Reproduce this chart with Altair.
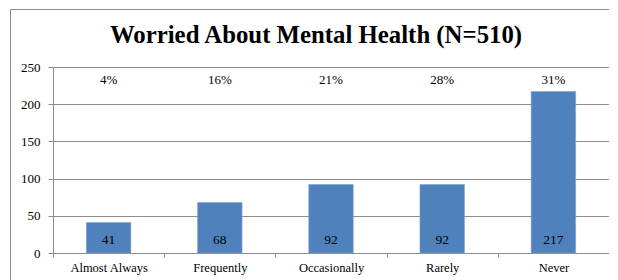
import altair as alt
import pandas as pd

title_text = ["Worried About Mental Health (N=510)"]
categories = ["Almost Always", "Frequently", "Occasionally", "Rarely", "Never"]
counts = [41, 68, 92, 92, 217]
percents = ["4%", "16%", "21%", "28%", "31%"]
y_ticks = [0, 50, 100, 150, 200, 250]

df = pd.DataFrame({"cat": categories, "count": counts, "pct": percents})
tdf = pd.DataFrame({"t": title_text})

W, H = 556, 186
FONT = "'Liberation Serif', 'Times New Roman', Tinos, Times, serif"
GRAY = "#8C8C8C"

x_enc = alt.X(
    "cat:N",
    sort=categories,
    title=None,
    scale=alt.Scale(paddingInner=0, paddingOuter=0),
    axis=alt.Axis(
        labelAngle=0,
        tickBand="extent",
        tickSize=4,
        labelPadding=4,
        labelFont=FONT,
        labelFontSize=12.5,
        labelColor="#000000",
        domainColor=GRAY,
        tickColor=GRAY,
        grid=False,
    ),
)
y_enc = alt.Y(
    "count:Q",
    title=None,
    scale=alt.Scale(domain=[0, 250], nice=False),
    axis=alt.Axis(
        values=y_ticks,
        tickSize=5,
        labelPadding=8,
        labelFont=FONT,
        labelFontSize=13,
        labelColor="#000000",
        domainColor=GRAY,
        tickColor=GRAY,
        gridColor=GRAY,
        grid=True,
    ),
)

bars = alt.Chart(df).mark_bar(
    color="#4F81BD", width=alt.RelativeBandSize(0.4), stroke="#7FA3D3", strokeWidth=0.6
).encode(x=x_enc, y=y_enc)

values = alt.Chart(df).mark_text(
    font=FONT, fontSize=13.5, color="#000000", baseline="middle"
).encode(x=alt.X("cat:N", sort=categories), y=alt.value(H - 13), text="count:Q")

pcts = alt.Chart(df).mark_text(
    font=FONT, fontSize=13, color="#000000", baseline="middle"
).encode(x=alt.X("cat:N", sort=categories), y=alt.value(13), text="pct:N")

title = alt.Chart(tdf).mark_text(
    font=FONT, fontSize=24.8, fontWeight="bold", color="#000000",
    baseline="alphabetic", align="center"
).encode(x=alt.value(263), y=alt.value(-24), text="t:N")

frame_left = alt.Chart(tdf).mark_rule(color=GRAY, strokeWidth=1).encode(
    x=alt.value(-42.5), y=alt.value(-57.5), y2=alt.value(H + 40)
)
frame_top = alt.Chart(tdf).mark_rule(color=GRAY, strokeWidth=1).encode(
    x=alt.value(-42.5), x2=alt.value(W + 2), y=alt.value(-57.5)
)

chart = alt.layer(frame_left, frame_top, bars, values, pcts, title).properties(
    width=W,
    height=H,
    autosize=alt.AutoSizeParams(type="none"),
    padding={"left": 45, "top": 59, "right": 0, "bottom": 27},
    background="#ffffff",
).configure_view(stroke=None)

chart.save("out.html", embed_options={"renderer": "svg", "actions": False})
